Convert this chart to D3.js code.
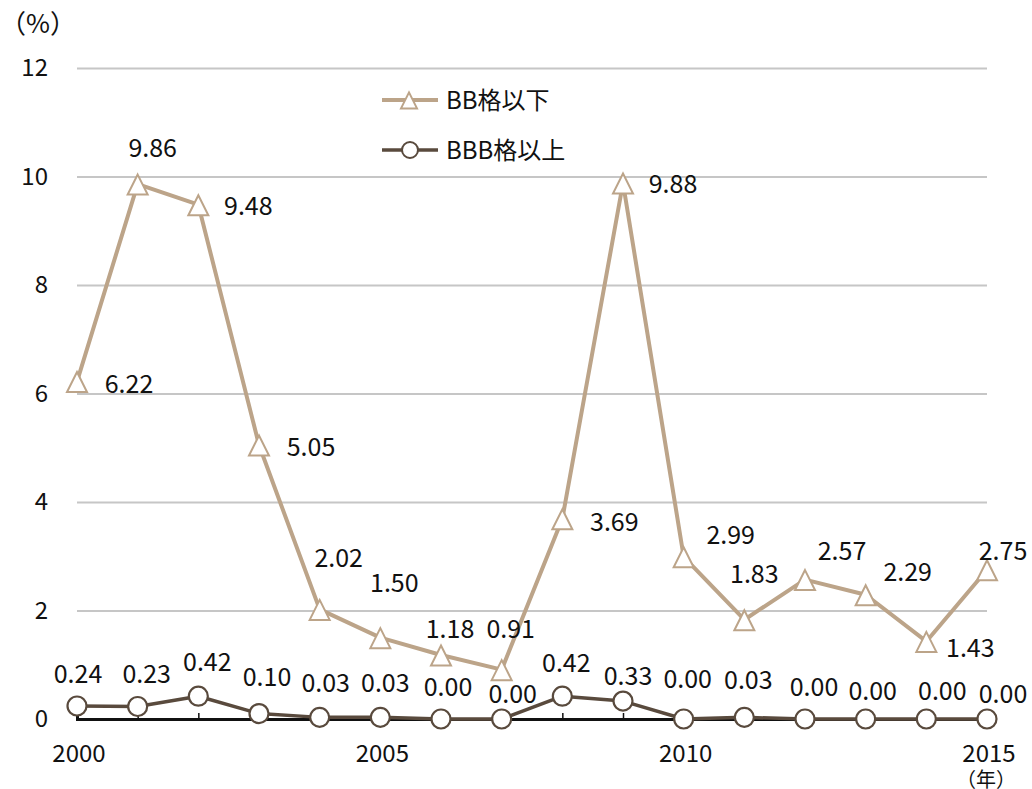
<!DOCTYPE html>
<html>
<head>
<meta charset="utf-8">
<script src="https://cdn.jsdelivr.net/npm/d3@7/dist/d3.min.js"></script>
<style>
  html, body { margin: 0; padding: 0; background: #fff; }
  svg text { font-family: "Noto Sans CJK JP", "Noto Sans", sans-serif; fill: #111; }
</style>
</head>
<body>
<svg id="chart" width="1032" height="789"></svg>
<script>
// Default rates by rating grade (%), 2000–2015
const years = [2000, 2001, 2002, 2003, 2004, 2005, 2006, 2007,
               2008, 2009, 2010, 2011, 2012, 2013, 2014, 2015];
const bbBelow = [6.22, 9.86, 9.48, 5.05, 2.02, 1.50, 1.18, 0.91,
                 3.69, 9.88, 2.99, 1.83, 2.57, 2.29, 1.43, 2.75];
const bbbAbove = [0.24, 0.23, 0.42, 0.10, 0.03, 0.03, 0.00, 0.00,
                  0.42, 0.33, 0.00, 0.03, 0.00, 0.00, 0.00, 0.00];
const yTicks = [0, 2, 4, 6, 8, 10, 12];
const xTickLabels = [2000, 2005, 2010, 2015];
const seriesNames = ["BB格以下", "BBB格以上"];

// label nudges [dx, dy] from each marker to the centre of its value label
const bbLabelNudge = [[52, 2], [15, -36], [50, 1], [52, 2], [19, -52], [14, -55], [9, -26], [9, -41],
                      [52, 3], [50, 1], [47, -22], [10, -46], [37, -29], [42, -23], [44, 6], [16, -19]];
const bbbLabelNudge = [[1, -32], [9, -33], [9, -34], [8, -37], [6, -35], [5, -35], [7, -32], [11, -25],
                       [4, -33], [5, -25], [4, -40], [4, -38], [9, -32], [7, -28], [16, -28], [16, -25]];

const colBB = "#bca489";
const colBBB = "#594a3d";

const svg = d3.select("#chart");
const W = 1032;
const padLeft = 77, padRight = 45, padTop = 68;

const x = d3.scaleLinear().domain([2000, 2015]).range([padLeft, W - padRight]);
const y = d3.scaleLinear().domain([0, 12]).range([719, padTop]);

// horizontal grid lines
const grid = d3.axisLeft(y).tickValues(yTicks.filter(v => v > 0))
  .tickSize(-(x(2015) - x(2000))).tickFormat("");
svg.append("g").attr("transform", `translate(${x(2000)},0)`).call(grid)
  .call(g => g.select(".domain").remove())
  .call(g => g.selectAll("line").attr("stroke", "#c6c6c6").attr("stroke-width", 2));

// y tick labels
const yAxis = d3.axisLeft(y).tickValues(yTicks).tickSize(0).tickPadding(0).tickFormat(d3.format("d"));
svg.append("g").attr("transform", `translate(48,0)`).call(yAxis)
  .call(g => g.select(".domain").remove())
  .call(g => g.selectAll("text").attr("font-size", 24).attr("text-anchor", "end")
    .style("font-family", '"Noto Sans CJK JP", sans-serif').attr("fill", "#111"));

// x axis baseline with small upward ticks at each year
const xAxis = d3.axisBottom(x).tickValues(years).tickSize(-6).tickFormat("");
svg.append("g").attr("transform", `translate(0,${y(0)})`).call(xAxis)
  .call(g => g.select(".domain").attr("stroke", "#111").attr("stroke-width", 3))
  .call(g => g.selectAll(".tick line").attr("stroke", "#111").attr("stroke-width", 1.5));

// x tick labels
svg.append("g").selectAll("text").data(xTickLabels).join("text")
  .attr("x", d => x(d) + 2).attr("y", 762)
  .attr("text-anchor", "middle").attr("font-size", 24).text(d => d);

// unit labels
svg.append("text").attr("x", 38).attr("y", 33).attr("text-anchor", "middle")
  .attr("font-size", 26).text("（%）");
svg.append("text").attr("x", 986).attr("y", 787).attr("text-anchor", "middle")
  .attr("font-size", 20).text("（年）");

const bbPts = years.map((yr, i) => ({ yr, v: bbBelow[i], i }));
const bbbPts = years.map((yr, i) => ({ yr, v: bbbAbove[i], i }));
const line = d3.line().x(d => x(d.yr)).y(d => y(d.v));

// open triangle centred on the point
const tri = (cx, cy, s) => `M${cx},${cy - s * 0.95}L${cx + s},${cy + s * 1.05}L${cx - s},${cy + s * 1.05}Z`;

// BB and below
svg.append("path").datum(bbPts).attr("d", line)
  .attr("fill", "none").attr("stroke", colBB).attr("stroke-width", 4).attr("stroke-linejoin", "round");
svg.append("g").selectAll("path").data(bbPts).join("path")
  .attr("d", d => tri(x(d.yr), y(d.v), 10))
  .attr("fill", "#fff").attr("stroke", colBB).attr("stroke-width", 2);

// BBB and above
svg.append("path").datum(bbbPts).attr("d", line)
  .attr("fill", "none").attr("stroke", colBBB).attr("stroke-width", 3.5).attr("stroke-linejoin", "round");
svg.append("g").selectAll("circle").data(bbbPts).join("circle")
  .attr("cx", d => x(d.yr)).attr("cy", d => y(d.v)).attr("r", 9.5)
  .attr("fill", "#fff").attr("stroke", colBBB).attr("stroke-width", 2.2);

// value labels (nudge gives the label centre; baseline sits ~0.37em below it)
const fmt = d3.format(".2f");
const FS = 25;
const addLabels = (pts, nudge) => svg.append("g").selectAll("text").data(pts).join("text")
  .attr("font-size", FS)
  .attr("text-anchor", "middle")
  .attr("x", d => x(d.yr) + nudge[d.i][0])
  .attr("y", d => y(d.v) + nudge[d.i][1] + FS * 0.37)
  .text(d => fmt(d.v));
addLabels(bbPts, bbLabelNudge);
addLabels(bbbPts, bbbLabelNudge);

// legend
const legend = svg.append("g");
const legY = [100, 150];
const legCol = [colBB, colBBB];
seriesNames.forEach((name, k) => {
  const ly = legY[k];
  legend.append("line").attr("x1", 382).attr("x2", 438).attr("y1", ly).attr("y2", ly)
    .attr("stroke", legCol[k]).attr("stroke-width", k === 0 ? 4 : 3.5);
  if (k === 0) {
    legend.append("path").attr("d", tri(409, ly, 8))
      .attr("fill", "#fff").attr("stroke", colBB).attr("stroke-width", 2);
  } else {
    legend.append("circle").attr("cx", 410).attr("cy", ly).attr("r", 8)
      .attr("fill", "#fff").attr("stroke", colBBB).attr("stroke-width", 2);
  }
  legend.append("text").attr("x", 446).attr("y", ly + 9).attr("font-size", 24).text(name);
});
</script>
</body>
</html>
